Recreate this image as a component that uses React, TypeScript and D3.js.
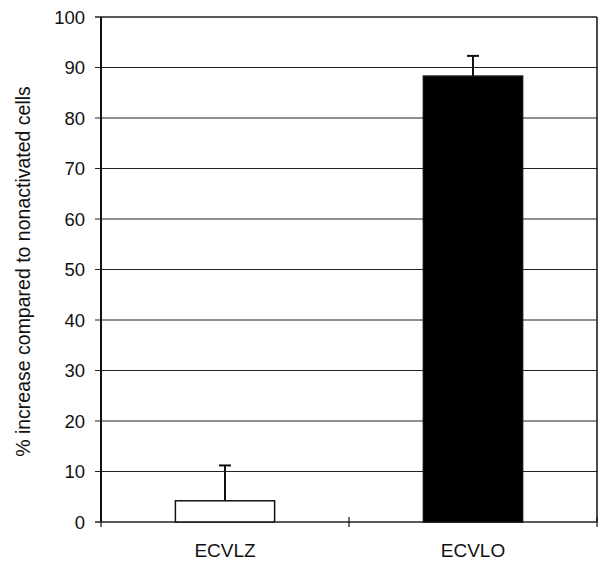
import React from "react";
import * as d3 from "d3";

const categories = ["ECVLZ", "ECVLO"];
const values = [4.2, 88.3];
const errors = [7.0, 4.0];
const fills = ["#ffffff", "#000000"];
const yTicks = [0, 10, 20, 30, 40, 50, 60, 70, 80, 90, 100];
const yTitle = "% increase compared to nonactivated cells";

export default function App() {
  const W = 602, H = 563;
  const left = 101, right = 597, top = 17, bottom = 522;
  const x = d3.scaleBand<string>().domain(categories).range([left, right]).paddingInner(0).paddingOuter(0);
  const y = d3.scaleLinear().domain([0, 100]).range([bottom, top]);
  const barW = x.bandwidth() / 2.5;
  const font = "'Liberation Sans', Arial, sans-serif";
  return (
    <svg width={W} height={H} style={{ position: "absolute", left: 0, top: 0, background: "#fff" }}>
      {yTicks.map((t) => (
        <g key={t}>
          <line x1={left - 6} x2={right} y1={y(t)} y2={y(t)} stroke="#222" strokeWidth={t === 0 || t === 100 ? 1.6 : 1} />
          <text x={left - 16} y={y(t)} dy="0.36em" textAnchor="end" fontFamily={font} fontSize={18.5} fill="#111">{t}</text>
        </g>
      ))}
      <line x1={left} x2={left} y1={top} y2={bottom} stroke="#111" strokeWidth={2} />
      <line x1={right} x2={right} y1={top} y2={bottom} stroke="#111" strokeWidth={1.5} />
      {[left, left + x.bandwidth(), right].map((px, i) => (
        <line key={i} x1={px} x2={px} y1={bottom - 5} y2={bottom + 5} stroke="#111" strokeWidth={1.2} />
      ))}
      {categories.map((c, i) => {
        const cx = (x(c) as number) + x.bandwidth() / 2;
        return (
          <g key={c}>
            <line x1={cx} x2={cx} y1={y(values[i])} y2={y(values[i] + errors[i])} stroke="#111" strokeWidth={2} />
            <line x1={cx - 6} x2={cx + 6} y1={y(values[i] + errors[i])} y2={y(values[i] + errors[i])} stroke="#111" strokeWidth={2} />
            <rect x={cx - barW / 2} y={y(values[i])} width={barW} height={y(0) - y(values[i])} fill={fills[i]} stroke="#111" strokeWidth={1.5} />
            <text x={cx} y={557} textAnchor="middle" fontFamily={font} fontSize={19} fill="#111">{c}</text>
          </g>
        );
      })}
      <text transform={`translate(30, ${(top + bottom) / 2 + 2}) rotate(-90)`} textAnchor="middle" fontFamily={font} fontSize={19.5} fill="#111">{yTitle}</text>
    </svg>
  );
}
